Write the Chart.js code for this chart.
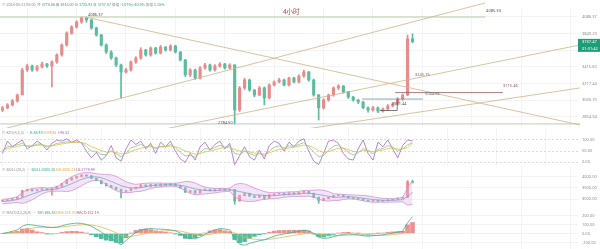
<!DOCTYPE html>
<html>
<head>
<meta charset="utf-8">
<script src="https://cdn.jsdelivr.net/npm/chart.js@4.4.1/dist/chart.umd.min.js"></script>
<style>
  html, body { margin: 0; padding: 0; background: #fff; width: 600px; height: 249px; overflow: hidden; }
  body { position: relative; font-family: "Noto Sans CJK SC", "Noto Sans", sans-serif; }
  canvas { position: absolute; left: 0; }
  .txt { position: absolute; white-space: nowrap; font-size: 3.7px; line-height: 5px; color: #8c8c8c; }
  .teal { color: #26a48a; }
  .gold { color: #e0a73a; }
  .purp { color: #a765c2; }
  .red { color: #c0506a; }
  #title { left: 283px; top: 8px; font-size: 6.5px; line-height: 7px; color: #b0413e; }
</style>
</head>
<body>
<canvas id="main" width="600" height="128" style="top:0"></canvas>
<canvas id="kdj" width="600" height="38" style="top:128px"></canvas>
<canvas id="boll" width="600" height="41" style="top:166px"></canvas>
<canvas id="macd" width="600" height="42" style="top:207px"></canvas>

<div class="txt" style="left:2px;top:2px">⊙ 2024-05-22 08:00 &nbsp;开 <span class="teal">3778.86</span> 高 <span class="teal">3845.00</span> 低 <span class="teal">3725.93</span> 收 <span class="teal">3737.47</span> 涨幅 <span class="teal">-1.07%(-40.59)</span> 振幅 <span class="teal">3.15%</span></div>
<div class="txt" id="title">4小时</div>
<div class="txt" style="left:2px;top:130px">⊙ KDJ(9,3,3) &nbsp;• <span class="teal">K:88.40</span> <span class="gold">D:84.55</span> <span class="purp">J:96.52</span></div>
<div class="txt" style="left:2px;top:167px">⊙ BOLL(20,2) &nbsp;• <span class="teal">BOLL:3303.10</span> <span class="gold">UB:3826.21</span> <span class="purp">LB:2779.99</span></div>
<div class="txt" style="left:2px;top:210px">⊙ MACD(12,26,9) &nbsp;• <span class="teal">DIF:185.83</span> <span class="gold">DEA:124.76</span> <span class="red">MACD:122.14</span></div>

<script>
// 4h candles, oldest first
const opens = [2925, 2950, 2981, 3023, 3089, 3379, 3428, 3379, 3416, 3452, 3428, 3477, 3566, 3696, 3858, 3943, 4014, 4072, 4043, 3928,
  3831, 3696, 3604, 3527, 3440, 3355, 3379, 3477, 3527, 3630, 3566, 3656, 3591, 3669, 3630, 3683, 3604, 3502, 3319, 3379,
  3283, 3403, 3440, 3379, 3428, 3452, 3403, 3440, 2927, 3168, 3260, 3145, 3089, 3168, 3056, 3202, 3237, 3260, 3202, 3283,
  3237, 3307, 3355, 3260, 3089, 2950, 3034, 3089, 3168, 3190, 3122, 3067, 3034, 3012, 2950, 2927, 2950, 2916, 2938, 2970,
  2992, 3045, 3089, 3778.86];
const highs = [2965, 2995, 3040, 3100, 3400, 3450, 3440, 3435, 3475, 3460, 3490, 3580, 3710, 3875, 3960, 4030, 4086.37, 4080, 4050, 3940,
  3840, 3710, 3620, 3540, 3450, 3400, 3490, 3545, 3660, 3640, 3670, 3665, 3690, 3675, 3700, 3690, 3610, 3510, 3395, 3390,
  3420, 3460, 3450, 3445, 3470, 3460, 3455, 3445, 3185, 3280, 3270, 3150, 3185, 3180, 3215, 3250, 3280, 3270, 3295, 3290,
  3320, 3379, 3360, 3270, 3095, 3050, 3100, 3180, 3205, 3195, 3130, 3075, 3040, 3020, 2960, 2965, 2960, 2950, 2985, 3005,
  3060, 3100, 3830, 3845.00];
const lows = [2910, 2940, 2970, 3010, 3168, 3360, 3360, 3365, 3400, 3410, 3180, 3460, 3550, 3680, 3840, 3925, 3995, 4010, 3910, 3815,
  3680, 3585, 3510, 3420, 3056, 3340, 3365, 3460, 3510, 3550, 3550, 3575, 3580, 3615, 3615, 3590, 3490, 3300, 3300, 3265,
  3270, 3390, 3365, 3365, 3410, 3390, 3390, 2784.5, 2910, 3150, 3130, 3070, 3080, 2981, 3045, 3190, 3225, 3190, 3190, 3225,
  3225, 3290, 3245, 3075, 2824, 2935, 3020, 3075, 3150, 3110, 3050, 3020, 2995, 2940, 2905, 2915, 2900, 2905, 2925, 2960,
  2980, 3030, 3080, 3725.93];
const closes = [2950, 2981, 3023, 3089, 3379, 3428, 3379, 3416, 3452, 3428, 3477, 3566, 3696, 3858, 3943, 4014, 4072, 4043, 3928, 3831,
  3696, 3604, 3527, 3440, 3355, 3379, 3477, 3527, 3630, 3566, 3656, 3591, 3669, 3630, 3683, 3604, 3502, 3319, 3379, 3283,
  3403, 3440, 3379, 3428, 3452, 3403, 3440, 2927, 3168, 3260, 3145, 3089, 3168, 3056, 3202, 3237, 3260, 3202, 3283, 3237,
  3307, 3355, 3260, 3089, 2950, 3034, 3089, 3168, 3190, 3122, 3067, 3034, 3012, 2950, 2927, 2950, 2916, 2938, 2970, 2992,
  3045, 3089, 3778.86, 3737.47];
const lastPrice = 3737.47;

// indicators
const kdjK = [50, 70, 72, 78, 85, 72, 72, 82, 80, 68, 75, 85, 88, 92, 90, 92, 88, 70, 50, 50,
  35, 35, 52, 38, 25, 42, 65, 72, 80, 70, 76, 60, 72, 70, 80, 65, 45, 28, 32, 22,
  45, 62, 58, 66, 76, 68, 74, 40, 35, 50, 40, 30, 40, 30, 50, 68, 74, 64, 74, 72,
  80, 88, 70, 45, 25, 30, 55, 72, 78, 62, 45, 33, 42, 62, 52, 38, 58, 62, 75, 68,
  50, 60, 78, 88.40];
const kdjD = [55, 62, 66, 70, 76, 74, 73, 76, 78, 74, 74, 78, 82, 86, 88, 89, 89, 82, 70, 62,
  52, 46, 48, 44, 38, 39, 48, 56, 64, 66, 70, 66, 68, 69, 73, 70, 62, 50, 44, 36,
  39, 47, 51, 56, 63, 65, 68, 58, 50, 50, 47, 41, 41, 37, 42, 51, 58, 60, 65, 67,
  72, 77, 75, 65, 52, 44, 48, 56, 63, 63, 57, 49, 47, 52, 52, 47, 51, 55, 62, 64,
  59, 60, 66, 84.55];
const kdjJ = [40, 95, 70, 85, 100, 60, 75, 95, 80, 55, 85, 100, 95, 105, 90, 100, 85, 50, 20, 45,
  10, 30, 75, 20, 5, 60, 100, 80, 95, 60, 85, 40, 90, 70, 95, 50, 15, 0, 40, 10,
  70, 90, 55, 80, 95, 60, 85, -10, 30, 70, 25, 10, 55, 15, 75, 95, 85, 50, 90, 70,
  95, 105, 50, 5, -10, 40, 95, 100, 85, 40, 15, 10, 60, 100, 40, 10, 90, 70, 100, 60,
  20, 75, 100, 96.52];
const bollMid = [2900, 2920, 2950, 2990, 3060, 3150, 3230, 3300, 3380, 3410, 3430, 3460, 3520, 3600, 3690, 3790, 3880, 3950, 3990, 3990,
  3950, 3880, 3790, 3700, 3600, 3540, 3500, 3500, 3520, 3560, 3600, 3620, 3630, 3640, 3645, 3640, 3620, 3580, 3520, 3460,
  3420, 3390, 3380, 3380, 3400, 3410, 3420, 3380, 3340, 3300, 3250, 3200, 3190, 3170, 3160, 3160, 3180, 3200, 3220, 3230,
  3240, 3260, 3270, 3250, 3210, 3170, 3130, 3100, 3090, 3100, 3110, 3100, 3080, 3050, 3020, 2990, 2970, 2955, 2950, 2955,
  2965, 2985, 3120, 3303.10];
const bollUp = [3000, 3020, 3060, 3120, 3300, 3420, 3480, 3500, 3520, 3500, 3510, 3560, 3680, 3860, 4000, 4100, 4160, 4180, 4170, 4130,
  4110, 4100, 4080, 4020, 3900, 3780, 3700, 3660, 3690, 3710, 3720, 3720, 3720, 3710, 3710, 3710, 3740, 3790, 3780, 3720,
  3620, 3540, 3500, 3480, 3480, 3480, 3490, 3650, 3700, 3680, 3600, 3490, 3420, 3340, 3300, 3290, 3310, 3310, 3330, 3330,
  3350, 3390, 3400, 3400, 3420, 3400, 3340, 3250, 3230, 3210, 3200, 3190, 3180, 3170, 3150, 3110, 3070, 3040, 3030, 3030,
  3050, 3080, 3500, 3826.21];
const bollLow = [2800, 2820, 2840, 2860, 2820, 2880, 2980, 3100, 3240, 3320, 3350, 3360, 3360, 3340, 3380, 3480, 3600, 3720, 3810, 3850,
  3790, 3660, 3500, 3380, 3300, 3300, 3300, 3340, 3350, 3410, 3480, 3520, 3540, 3570, 3580, 3570, 3500, 3370, 3260, 3200,
  3220, 3240, 3260, 3280, 3320, 3340, 3350, 3110, 2980, 2920, 2900, 2910, 2960, 3000, 3020, 3030, 3050, 3090, 3110, 3130,
  3130, 3130, 3140, 3100, 3000, 2940, 2920, 2950, 2950, 2990, 3020, 3010, 2980, 2930, 2890, 2870, 2870, 2870, 2870, 2880,
  2880, 2890, 2740, 2779.99];
const macdDif = [0, 10, 25, 40, 80, 100, 95, 85, 80, 70, 65, 70, 85, 100, 110, 115, 112, 100, 80, 50,
  15, -20, -50, -90, -125, -80, -30, 10, 35, 50, 55, 50, 48, 45, 40, 30, 5, -40, -55, -60,
  -40, -10, 20, 40, 55, 50, 40, -60, -120, -130, -110, -95, -80, -70, -50, -30, -15, -5, 5, 15,
  25, 35, 30, 0, -40, -55, -50, -35, -20, -10, -5, -10, -15, -25, -30, -25, -20, -15, -5, 5,
  15, 25, 120, 185.83];
const macdDea = [0, 3, 8, 15, 30, 45, 58, 66, 70, 71, 70, 70, 73, 79, 86, 92, 96, 97, 94, 85,
  71, 53, 32, 8, -20, -32, -32, -24, -12, 0, 12, 20, 26, 30, 32, 32, 27, 14, 0, -12,
  -18, -16, -9, 1, 12, 20, 24, 7, -18, -40, -55, -63, -67, -68, -64, -57, -48, -39, -30, -21,
  -12, -3, 3, 3, -6, -16, -23, -25, -24, -21, -18, -16, -16, -18, -20, -21, -21, -20, -17, -13,
  -7, 0, 30, 90];
const macdHist = [0, 7, 17, 25, 50, 55, 37, 19, 10, -1, -5, 0, 12, 21, 24, 23, 16, 3, -14, -35,
  -56, -73, -82, -98, -105, -48, 2, 34, 47, 50, 43, 30, 22, 15, 8, -2, -22, -54, -55, -48,
  -22, 6, 29, 39, 43, 30, 16, -67, -102, -90, -55, -32, -13, -2, 14, 27, 33, 34, 35, 36,
  37, 38, 27, -3, -34, -39, -27, -10, 4, 11, 13, 6, 1, -7, -10, -4, 1, 5, 12, 18,
  22, 25, 96, 122.14];

// axis labels
const priceTicks = [2854.94, 3030.70, 3217.44, 3415.60, 3626.00, 3849.29, 4086.37];
const kdjTicks = [0, 50, 100];
const bollTicks = [3000, 3500, 4000];
const macdTicks = [-100, 0, 100, 200];

// drawings on the main pane: [candle index, price]
const trendLines = [
  [16.7, 4086.37, 116.9, 2774],
  [-0.5, 2725, 97.7, 4297],
  [31.9, 2725, 116.9, 3696],
  [60.2, 2725, 116.9, 3168]
];
const levels = [
  [4085.30, -0.5, 97.7],
  [2784.50, -0.5, 116.9],
  [3115.46, 79.5, 101.3],
  [3044.28, 72.8, 85.1],
  [2921.44, 76.4, 79.9]
];
const boxEdge = [79.9, 2921.44, 3044.28];
const notes = [
  ['4086.37', 17.3, 4116],
  ['4085.30', 97.9, 4175],
  ['2784.50', 43.6, 2799],
  ['3245.75', 83.5, 3319],
  ['3115.46', 101.3, 3191],
  ['3044.28', 85.5, 3106],
  ['2921.44', 78.8, 2991]
];

const UP = '#e98b8b', DOWN = '#5cbc9f';
const candleColors = closes.map((c, i) => c >= opens[i] ? UP : DOWN);
const histColors = macdHist.map(v => v >= 0 ? '#ea9090' : '#52bb9e');
const small = { size: 4, family: '"Noto Sans", sans-serif' };

function xScale() {
  return {
    type: 'linear', min: -0.506, max: 116.5, offset: false,
    ticks: { display: false, stepSize: 10, includeBounds: false },
    grid: { color: '#f4f4f4', drawTicks: false },
    border: { display: false },
    afterFit: s => { s.height = 0; }
  };
}
function yScale(extra, ticks) {
  return Object.assign({
    position: 'right',
    afterBuildTicks: s => { s.ticks = ticks.map(v => ({ value: v })); },
    afterFit: s => { s.width = 22; s.paddingTop = 0; s.paddingBottom = 0; },
    grid: { color: '#f3f3f3', drawTicks: false },
    border: { display: false },
    ticks: { font: small, color: '#8e8e8e', padding: 4, callback: v => Number(v).toFixed(2) }
  }, extra);
}
const pts = arr => arr.map((v, i) => ({ x: i, y: v }));
const base = {
  responsive: false, animation: false, events: [],
  plugins: { legend: { display: false }, tooltip: { enabled: false } }
};

const drawings = {
  id: 'drawings',
  afterDatasetsDraw(chart) {
    const { ctx, scales: { x, y } } = chart;
    const X = v => x.getPixelForValue(v), Y = v => y.getPixelForValue(v);
    ctx.save();
    ctx.lineWidth = 0.8;
    ctx.strokeStyle = '#cfb28a';
    trendLines.forEach(([i1, p1, i2, p2]) => {
      ctx.beginPath(); ctx.moveTo(X(i1), Y(p1)); ctx.lineTo(X(i2), Y(p2)); ctx.stroke();
    });
    const levelColors = ['#a9c48f', '#b4bcaa', '#8d5a5a', '#6d8ea6', '#555'];
    levels.forEach(([p, i1, i2], k) => {
      ctx.strokeStyle = levelColors[k];
      ctx.beginPath(); ctx.moveTo(X(i1), Y(p)); ctx.lineTo(X(i2), Y(p)); ctx.stroke();
    });
    ctx.strokeStyle = '#555';
    ctx.beginPath(); ctx.moveTo(X(boxEdge[0]), Y(boxEdge[1])); ctx.lineTo(X(boxEdge[0]), Y(boxEdge[2])); ctx.stroke();
    const noteColors = ['#555', '#555', '#555', '#8d5a5a', '#8d5a5a', '#5d7e96', '#555'];
    ctx.font = '4px "Noto Sans", sans-serif';
    ctx.textBaseline = 'middle';
    notes.forEach(([t, i, p], k) => {
      ctx.fillStyle = noteColors[k];
      ctx.fillText(t, X(i), Y(p));
    });
    ctx.restore();
  }
};
const priceTag = {
  id: 'priceTag',
  afterDraw(chart) {
    const { ctx, chartArea, scales: { y } } = chart;
    const py = y.getPixelForValue(lastPrice);
    ctx.save();
    ctx.fillStyle = '#1f9d77';
    ctx.fillRect(chartArea.right, py - 3, chart.width - chartArea.right, 13);
    ctx.fillStyle = '#fff';
    ctx.font = '4px "Noto Sans", sans-serif';
    ctx.textBaseline = 'middle';
    ctx.fillText(lastPrice.toFixed(2), chartArea.right + 4, py + 0.5);
    ctx.fillText('01:31:42', chartArea.right + 4, py + 6.7);
    ctx.restore();
  }
};

function candleSets(bodyW) {
  return [
    { type: 'bar', data: lows.map((l, i) => ({ x: i, y: [l, highs[i]] })), backgroundColor: candleColors, barThickness: 1, grouped: false, order: 2 },
    { type: 'bar', data: opens.map((o, i) => ({ x: i, y: [o, closes[i]] })), backgroundColor: candleColors, barThickness: bodyW, grouped: false, order: 1, minBarLength: 0.6 }
  ];
}

new Chart(document.getElementById('main'), {
  type: 'bar',
  data: { datasets: candleSets(2.5) },
  options: Object.assign({}, base, {
    layout: { padding: { top: 8 } },
    scales: { x: xScale(), y: yScale({ type: 'logarithmic', min: 2744, max: 4220 }, priceTicks) }
  }),
  plugins: [drawings, priceTag]
});

const line = (data, color, w) => ({ type: 'line', data: pts(data), borderColor: color, borderWidth: w || 0.8, pointRadius: 0, fill: false, order: 0 });

new Chart(document.getElementById('kdj'), {
  type: 'line',
  data: { datasets: [line(kdjD, '#e6b84c'), line(kdjK, '#8cc58c'), line(kdjJ, '#a867c4')] },
  options: Object.assign({}, base, {
    scales: {
      x: xScale(),
      y: yScale({ type: 'linear', min: -16.6, max: 153.8, grid: { color: '#dcdcdc', drawTicks: false }, border: { display: false, dash: [2, 2] } }, kdjTicks)
    }
  })
});

const upper = line(bollUp, '#d392d6');
const lower = Object.assign(line(bollLow, '#d392d6'), { fill: '-1', backgroundColor: 'rgba(224,178,232,0.35)' });
new Chart(document.getElementById('boll'), {
  type: 'line',
  data: { datasets: [upper, lower, line(bollMid, '#4a9fb4')].concat(candleSets(2)) },
  options: Object.assign({}, base, {
    scales: { x: xScale(), y: yScale({ type: 'linear', min: 2659, max: 4473 }, bollTicks) }
  })
});

new Chart(document.getElementById('macd'), {
  type: 'bar',
  data: {
    datasets: [
      line(macdDif, '#3fae8c'), line(macdDea, '#e6b84c'),
      { type: 'bar', data: pts(macdHist), backgroundColor: histColors, barThickness: 4, order: 1 }
    ]
  },
  options: Object.assign({}, base, {
    scales: { x: xScale(), y: yScale({ type: 'linear', min: -172, max: 294 }, macdTicks) }
  })
});
</script>
</body>
</html>
